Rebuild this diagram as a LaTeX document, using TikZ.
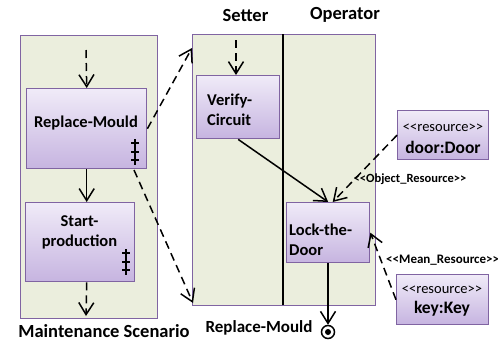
\documentclass[tikz,border=0pt]{standalone}
\usepackage{fontspec}
\setmainfont{Carlito}
\usetikzlibrary{arrows.meta,calc}
\definecolor{pur}{HTML}{8064A2}
\definecolor{olivebg}{HTML}{EBEEDD}
\definecolor{boxtop}{HTML}{F0EBF8}
\definecolor{boxbot}{HTML}{C6B4E0}
\begin{document}
\begin{tikzpicture}[x=1pt,y=-1pt,
  container/.style={draw=pur,fill=olivebg,line width=1.4pt,anchor=north west,inner sep=0pt},
  actbox/.style={draw=pur,line width=1.4pt,top color=boxtop,bottom color=boxbot,anchor=north west,inner sep=0pt},
  lbl/.style={font=\bfseries\fontsize{16.5}{20}\selectfont,align=center,inner sep=0pt},
  head/.style={font=\bfseries\fontsize{18.5}{22}\selectfont,inner sep=0pt},
  flow/.style={-{Straight Barb[length=12pt,width=15pt,line width=1.5pt]},line width=1.5pt},
  dflow/.style={flow,dash pattern=on 8pt off 5pt}]
\useasboundingbox (0,0) rectangle (498,341);
% containers
\node[container,minimum width=137pt,minimum height=283pt] (ms) at (20,35) {};
\node[container,minimum width=183pt,minimum height=271pt] (pool) at (192,34) {};
\draw[line width=1.1pt] (283,34) coordinate (dvt) -- (283,305) coordinate (dvb);
% activity boxes
\node[actbox,minimum width=120pt,minimum height=80pt] (rm) at (26,88) {};
\node[lbl] (rmt) at (86,123) {Replace-Mould};
\node[actbox,minimum width=109pt,minimum height=79pt] (sp) at (25,202) {};
\node[lbl] (spt) at (79.5,232) {Start-\\production};
\node[actbox,minimum width=83pt,minimum height=63pt] (vc) at (196,75) {};
\node[lbl,align=left,anchor=west] (vct) at (207,110) {Verify-\\Circuit};
\node[actbox,minimum width=83pt,minimum height=60pt] (ld) at (286,202) {};
\node[lbl,align=left,anchor=west] (ldt) at (289,240) {Lock-the-\\Door};
\node[actbox,minimum width=91pt,minimum height=49pt] (door) at (397,110) {};
\node[inner sep=0pt,font=\fontsize{14.5}{17}\selectfont] (doorst) at (443,128) {<{}<resource>{}>};
\node[inner sep=0pt,font=\bfseries\fontsize{17.5}{20}\selectfont] (doort) at (443,147) {door:Door};
\node[actbox,minimum width=92pt,minimum height=50pt] (key) at (396,274) {};
\node[inner sep=0pt,font=\fontsize{14.5}{17}\selectfont] (keyst) at (442,290) {<{}<resource>{}>};
\node[inner sep=0pt,font=\bfseries\fontsize{17.5}{20}\selectfont] (keyt) at (442,309) {key:Key};
% hash marks
\foreach \hx/\hy in {135/139,126/249}{
  \draw[line width=1.3pt] (\hx,\hy) -- (\hx,\hy+26);
  \foreach \dy in {4,13,21} \draw[line width=1.3pt] (\hx-4,\hy+\dy) -- (\hx+4,\hy+\dy);
}
% labels
\node[head] (mslbl) at (104,331) {Maintenance Scenario};
\node[head] (setter) at (245.5,15) {Setter};
\node[head] (oper) at (345,15) {Operator};
\node[lbl,font=\bfseries\fontsize{17}{20}\selectfont] (rmlbl) at (259,328) {Replace-Mould};
\node[font=\bfseries\fontsize{12.5}{15}\selectfont,inner sep=0pt] (orl) at (410,179) {<{}<Object\_Resource>{}>};
\node[font=\bfseries\fontsize{13}{15}\selectfont,inner sep=0pt,anchor=west] (mrl) at (386,260) {<{}<Mean\_Resource>{}>};
% final node
\node[circle,draw,line width=1.5pt,minimum size=13pt,inner sep=0pt] (fin) at (328,332) {};
\fill (fin.center) circle (3pt);
% coordinates
\coordinate (s1) at (86,50);
\coordinate (e1) at (86,316);
\coordinate (s2) at (236,40);
\coordinate (pin1) at (192,48);
\coordinate (pin2) at (193,303);
\coordinate (rmb) at (134,170);
% connectors
\draw[dflow] (s1) -- (rm.north);
\draw[flow] (rm.south) -- (sp.north -| rm.south);
\draw[dflow] (sp.south -| rm.south) -- (e1);
\draw[dflow] (s2) -- (vc.north -| s2);
\draw[flow] (vc.south) -- (ld.north);
\draw[flow] (ld.south -| fin) -- (fin.north);
\draw[dflow] (rm.east) -- (pin1);
\draw[dflow] (rmb) -- (pin2);
\draw[dflow] (door.west) -- ($(ld.north)+(4.5,0)$);
\draw[dflow] (key.west) -- (ld.east);
\end{tikzpicture}
\end{document}
